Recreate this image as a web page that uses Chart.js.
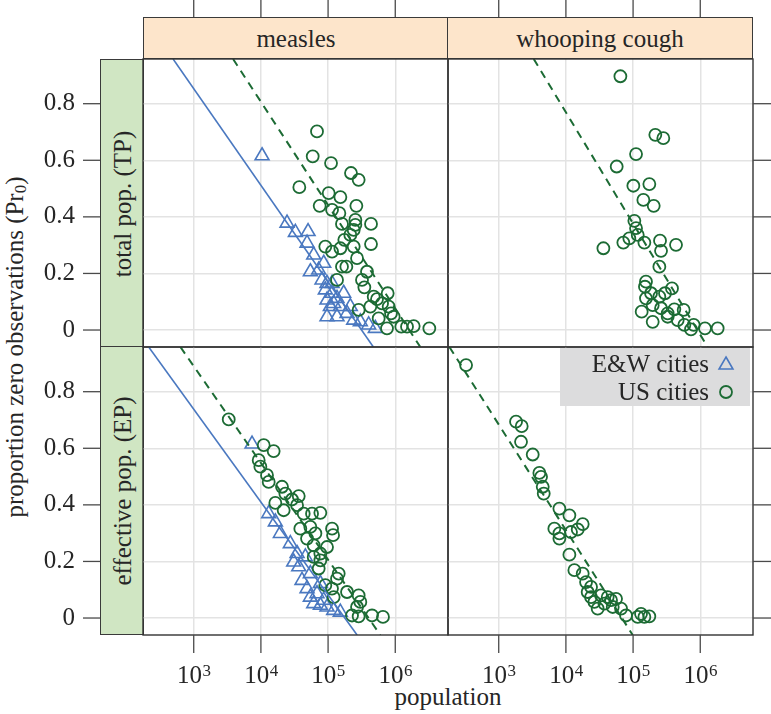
<!DOCTYPE html>
<html><head><meta charset="utf-8">
<script src="https://cdn.jsdelivr.net/npm/chart.js@4.4.1/dist/chart.umd.min.js"></script>
<style>
html,body{margin:0;padding:0;background:#fff;}
#wrap{position:relative;width:771px;height:714px;overflow:hidden;font-family:"Liberation Serif","Times New Roman",serif;color:#262626;font-size:25px;}
canvas{position:absolute;left:0;top:0;pointer-events:none;}
.strip{position:absolute;box-sizing:border-box;border:1.3px solid #3a3a3a;text-align:center;overflow:hidden;}
.top{background:#fde5cb;height:42px;line-height:41px;top:17px;width:306px;}
.left{background:#d0e6c3;width:44px;height:289px;left:100px;}
.vlab{position:absolute;left:50%;top:50%;width:288px;height:43px;line-height:43px;text-align:center;white-space:nowrap;transform:translate(-50%,-50%) rotate(-90deg);}
#ytitle{position:absolute;left:-195px;top:332px;width:420px;height:30px;line-height:30px;text-align:center;white-space:nowrap;transform:rotate(-90deg);}
#ytitle sub{font-size:0.68em;vertical-align:-0.2em;line-height:0;}
#xtitle{position:absolute;left:348px;top:684px;width:200px;height:26px;line-height:26px;text-align:center;}
</style></head>
<body><div id="wrap">
<div class="strip top" style="left:143px;">measles</div>
<div class="strip top" style="left:447px;">whooping cough</div>
<div class="strip left" style="top:59px;"><div class="vlab">total pop. (TP)</div></div>
<div class="strip left" style="top:346px;"><div class="vlab">effective pop. (EP)</div></div>
<div id="ytitle">proportion zero observations (Pr<sub>0</sub>)</div>
<div id="xtitle">population</div>
<canvas id="cTL" width="771" height="714"></canvas>
<canvas id="cTR" width="771" height="714"></canvas>
<canvas id="cBL" width="771" height="714"></canvas>
<canvas id="cBR" width="771" height="714"></canvas>
</div>
<script>
// ---------- data (x = log10 population, y = proportion of zero observations) ----------
const xTickVals = [3, 4, 5, 6];
const xTickLabels = [{base:'10', sup:'3'}, {base:'10', sup:'4'}, {base:'10', sup:'5'}, {base:'10', sup:'6'}];
const yTickVals = [0, 0.2, 0.4, 0.6, 0.8];
const yTickLabels = ['0', '0.2', '0.4', '0.6', '0.8'];
const xLimits = [2.245, 6.785];
const yLimits = [-0.06, 0.958];

// measles, total population
const measlesTP_US_logPop = [4.835,4.771,5.044,5.341,5.455,4.572,5.009,5.183,4.875,5.421,5.059,5.168,5.406,5.207,5.406,5.639,5.381,5.331,5.242,4.959,5.059,5.183,5.381,5.639,5.431,5.207,5.272,5.579,5.133,5.505,5.540,5.887,5.728,5.803,5.902,5.937,5.455,5.753,5.877,6.090,6.175,6.274,6.507,5.679,5.629,5.976];
const measlesTP_US_pr0 = [0.702,0.614,0.590,0.555,0.531,0.505,0.484,0.470,0.439,0.439,0.425,0.413,0.389,0.375,0.372,0.375,0.354,0.336,0.319,0.295,0.277,0.289,0.295,0.304,0.254,0.224,0.224,0.206,0.177,0.177,0.151,0.130,0.109,0.094,0.083,0.059,0.071,0.041,0.006,0.012,0.012,0.014,0.006,0.118,0.083,0.047];
const measlesTP_EW_logPop = [4.017,4.389,4.513,4.702,4.687,4.786,4.736,4.860,4.935,4.910,4.984,4.959,5.059,4.984,5.133,5.034,5.183,4.984,5.133,5.282,5.381,5.480,5.703,5.604,5.232,5.083,5.331,5.059];
const measlesTP_EW_pr0 = [0.616,0.378,0.345,0.348,0.307,0.265,0.206,0.212,0.236,0.177,0.165,0.142,0.130,0.106,0.112,0.083,0.083,0.047,0.047,0.059,0.035,0.029,0.006,0.018,0.130,0.094,0.083,0.165];

// whooping cough, total population
const whoopingTP_US_logPop = [4.811,5.331,5.450,5.044,4.756,5.004,5.242,5.153,5.307,5.019,5.044,5.069,4.944,4.855,5.168,5.401,5.639,4.558,5.416,5.391,5.192,5.177,5.579,5.475,5.391,5.192,5.292,5.128,5.416,5.614,5.753,5.292,5.515,5.664,5.763,5.902,5.862,6.070,6.259,5.267,5.515];
const whoopingTP_US_pr0 = [0.897,0.690,0.678,0.622,0.578,0.510,0.516,0.460,0.439,0.386,0.360,0.336,0.324,0.309,0.309,0.316,0.301,0.289,0.280,0.224,0.171,0.153,0.147,0.130,0.118,0.112,0.088,0.065,0.077,0.073,0.071,0.029,0.047,0.035,0.018,0.018,0.002,0.006,0.006,0.130,0.059];

// measles, effective population
const measlesEP_US_logPop = [3.521,4.042,4.190,3.967,3.992,4.091,4.116,4.314,4.364,4.563,4.463,4.215,4.538,4.339,4.637,4.885,4.761,4.587,5.059,5.074,4.811,4.687,4.786,4.885,4.786,4.885,4.860,5.158,5.133,4.959,5.058,5.083,5.282,5.455,5.480,5.431,5.356,5.455,5.654,5.817,4.736,4.984];
const measlesEP_US_pr0 = [0.702,0.611,0.590,0.558,0.535,0.505,0.481,0.464,0.440,0.431,0.419,0.407,0.399,0.381,0.369,0.372,0.369,0.316,0.316,0.293,0.299,0.281,0.257,0.228,0.216,0.204,0.175,0.157,0.139,0.116,0.104,0.074,0.092,0.080,0.057,0.039,0.009,0.006,0.009,0.004,0.322,0.251];
const measlesEP_EW_logPop = [3.868,4.116,4.215,4.290,4.438,4.488,4.563,4.612,4.687,4.736,4.786,4.885,4.984,5.083,5.182,4.835,4.885,4.736,4.662,4.935,4.538];
const measlesEP_EW_pr0 = [0.615,0.369,0.340,0.299,0.263,0.198,0.181,0.133,0.104,0.074,0.051,0.045,0.039,0.027,0.021,0.086,0.122,0.157,0.216,0.063,0.228];

// whooping cough, effective population
const whoopingEP_US_logPop = [2.514,3.258,3.342,3.332,3.506,3.605,3.630,3.655,3.670,3.903,4.052,4.250,4.176,4.076,3.828,3.903,3.903,4.052,4.126,4.250,4.300,4.374,4.324,4.523,4.622,4.746,4.424,4.573,4.473,4.821,4.895,5.118,5.242,4.697,4.374,4.672,5.168,5.069];
const whoopingEP_US_pr0 = [0.894,0.694,0.678,0.623,0.578,0.513,0.499,0.464,0.440,0.387,0.363,0.332,0.313,0.304,0.316,0.299,0.281,0.224,0.169,0.157,0.127,0.110,0.092,0.080,0.074,0.068,0.057,0.051,0.033,0.033,0.009,0.015,0.006,0.039,0.074,0.063,0.004,0.004];

// fitted lines: end points (log10 population, proportion)
const fitEnds_pr0 = [0.958, -0.06];
const fitMeaslesTP_EW_logPop = [2.693, 5.674];
const fitMeaslesTP_US_logPop = [3.586, 6.373];
const fitWhoopingTP_US_logPop = [3.521, 6.110];
const fitMeaslesEP_EW_logPop = [2.330, 5.432];
const fitMeaslesEP_US_logPop = [2.802, 5.778];
const fitWhoopingEP_US_logPop = [2.266, 4.994];

const seriesNames = ['E&W cities', 'US cities'];

// ---------- styling ----------
const BLUE = '#4a78c0', GREEN = '#1c6b34';
const FONT = '"Liberation Serif", "Times New Roman", serif';
const zip = (xs, ys) => xs.map((x, i) => ({x, y: ys[i]}));

const usSet = (xs, ys) => ({label: seriesNames[1], data: zip(xs, ys), showLine: false,
  pointStyle: 'circle', pointRadius: 6, pointBorderWidth: 1.8, pointBorderColor: GREEN,
  pointBackgroundColor: 'rgba(0,0,0,0)'});
const ewSet = (xs, ys) => ({label: seriesNames[0], data: zip(xs, ys), showLine: false,
  pointStyle: 'triangle', pointRadius: 8, pointBorderWidth: 1.6, pointBorderColor: BLUE,
  pointBackgroundColor: 'rgba(0,0,0,0)'});
const fitSet = (xs, color, dashed) => ({label: 'fit', data: zip(xs, fitEnds_pr0), showLine: true,
  pointRadius: 0, borderColor: color, borderWidth: dashed ? 2 : 1.6, borderDash: dashed ? [8, 6] : []});

const panelDecor = {
  id: 'panelDecor',
  afterDraw(chart, args, o) {
    const ctx = chart.ctx, a = chart.chartArea, xs = chart.scales.x, ys = chart.scales.y;
    ctx.save();
    // legend
    if (o.legend) {
      const w = 190, h = 58, lx = a.right - 3 - w, ly = a.top + 1;
      ctx.fillStyle = '#dcdcdd';
      ctx.fillRect(lx, ly, w, h);
      ctx.fillStyle = '#262626';
      ctx.font = '25px ' + FONT;
      ctx.textAlign = 'right'; ctx.textBaseline = 'alphabetic';
      ctx.fillText(seriesNames[0], lx + 149, ly + 24);
      ctx.fillText(seriesNames[1], lx + 149, ly + 52);
      ctx.fillStyle = 'rgba(0,0,0,0)';
      ctx.strokeStyle = BLUE; ctx.lineWidth = 1.6;
      Chart.helpers.drawPoint(ctx, {pointStyle: 'triangle', radius: 8, borderWidth: 1.6, rotation: 0},
        lx + 166, ly + 17);
      ctx.strokeStyle = GREEN; ctx.lineWidth = 1.8;
      Chart.helpers.drawPoint(ctx, {pointStyle: 'circle', radius: 6, borderWidth: 1.8, rotation: 0},
        lx + 166, ly + 44);
    }
    // panel border
    ctx.strokeStyle = '#333'; ctx.lineWidth = 1.4;
    ctx.strokeRect(a.left, a.top, a.right - a.left, a.bottom - a.top);
    // outer ticks
    ctx.strokeStyle = '#4a4a4a'; ctx.lineWidth = 1.3;
    const seg = (x1, y1, x2, y2) => { ctx.beginPath(); ctx.moveTo(x1, y1); ctx.lineTo(x2, y2); ctx.stroke(); };
    ctx.fillStyle = '#262626';
    xTickVals.forEach((v, i) => {
      const x = xs.getPixelForValue(v);
      if (o.top) seg(x, 0, x, 17);
      if (o.bottom) {
        seg(x, a.bottom, x, a.bottom + 18);
        const lab = xTickLabels[i];
        ctx.font = '25px ' + FONT; const w1 = ctx.measureText(lab.base).width;
        ctx.font = '17px ' + FONT; const w2 = ctx.measureText(lab.sup).width;
        const x0 = x - (w1 + w2) / 2;
        ctx.textAlign = 'left'; ctx.textBaseline = 'alphabetic';
        ctx.font = '25px ' + FONT; ctx.fillText(lab.base, x0, a.bottom + 48);
        ctx.font = '17px ' + FONT; ctx.fillText(lab.sup, x0 + w1 + 0.5, a.bottom + 41);
      }
    });
    yTickVals.forEach((v, i) => {
      const y = ys.getPixelForValue(v);
      if (o.left) {
        seg(83, y, 100, y);
        ctx.font = '25px ' + FONT; ctx.textAlign = 'right'; ctx.textBaseline = 'middle';
        ctx.fillText(yTickLabels[i], 75, y);
      }
      if (o.right) seg(a.right, y, 771, y);
    });
    ctx.restore();
  }
};

function panel(id, pad, datasets, decor) {
  return new Chart(document.getElementById(id), {
    type: 'scatter',
    data: {datasets},
    options: {
      responsive: false, animation: false, devicePixelRatio: 1, events: [],
      layout: {padding: pad},
      plugins: {legend: {display: false}, tooltip: {enabled: false}, panelDecor: decor},
      scales: {
        x: {type: 'linear', min: xLimits[0], max: xLimits[1],
            afterBuildTicks: s => { s.ticks = xTickVals.map(v => ({value: v})); },
            ticks: {display: false}, grid: {color: '#e3e3e3', lineWidth: 1.5, drawTicks: false},
            border: {display: false}},
        y: {type: 'linear', min: yLimits[0], max: yLimits[1],
            afterBuildTicks: s => { s.ticks = yTickVals.map(v => ({value: v})); },
            ticks: {display: false}, grid: {color: '#e3e3e3', lineWidth: 1.5, drawTicks: false},
            border: {display: false}}
      }
    },
    plugins: [panelDecor]
  });
}

const W = 771, H = 714;
const colL = [143, 448], colR = [448, 753], rowT = [59, 347], rowB = [347, 635];
const padOf = (c, r) => ({left: c[0], right: W - c[1], top: r[0], bottom: H - r[1]});

panel('cTL', padOf(colL, rowT), [
  fitSet(fitMeaslesTP_EW_logPop, BLUE, false),
  fitSet(fitMeaslesTP_US_logPop, GREEN, true),
  usSet(measlesTP_US_logPop, measlesTP_US_pr0),
  ewSet(measlesTP_EW_logPop, measlesTP_EW_pr0)
], {top: true, left: true});

panel('cTR', padOf(colR, rowT), [
  fitSet(fitWhoopingTP_US_logPop, GREEN, true),
  usSet(whoopingTP_US_logPop, whoopingTP_US_pr0)
], {top: true, right: true});

panel('cBL', padOf(colL, rowB), [
  fitSet(fitMeaslesEP_EW_logPop, BLUE, false),
  fitSet(fitMeaslesEP_US_logPop, GREEN, true),
  usSet(measlesEP_US_logPop, measlesEP_US_pr0),
  ewSet(measlesEP_EW_logPop, measlesEP_EW_pr0)
], {bottom: true, left: true});

panel('cBR', padOf(colR, rowB), [
  fitSet(fitWhoopingEP_US_logPop, GREEN, true),
  usSet(whoopingEP_US_logPop, whoopingEP_US_pr0)
], {bottom: true, right: true, legend: true});
</script>
</body></html>
